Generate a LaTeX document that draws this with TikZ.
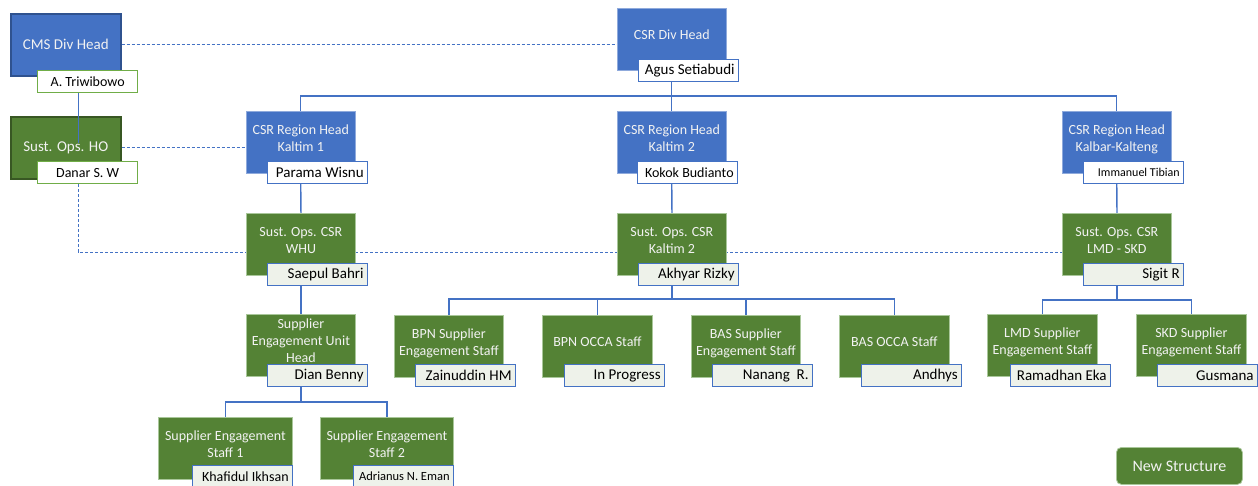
\documentclass[tikz,border=0pt]{standalone}
\usepackage{fontspec}
\setmainfont{Carlito}
\definecolor{cblue}{HTML}{4472C4}
\definecolor{cdblue}{HTML}{2F528F}
\definecolor{cgreen}{HTML}{548235}
\definecolor{cdgreen}{HTML}{385723}
\definecolor{clgreen}{HTML}{70AD47}
\definecolor{cgborder}{HTML}{A9C79A}
\definecolor{cbborder}{HTML}{8FAADC}
\definecolor{ctext}{HTML}{F2F2F2}
\definecolor{ctint}{HTML}{EEF2EA}
\pgfdeclarelayer{bg}
\pgfsetlayers{bg,main}
\newcommand\ttl[1]{\raisebox{0pt}[\height][\dimexpr\depth+6pt\relax]{\begin{tabular}{@{}c@{}}#1\end{tabular}}}
\newcommand\nmr[1]{\makebox[92pt][r]{#1}}
\tikzset{
  box/.style={rectangle, anchor=north west, minimum width=109pt, minimum height=62pt, inner sep=0pt, font=\fontsize{14}{17}\selectfont, text=ctext},
  bbox/.style={box, fill=cblue, draw=cbborder, line width=0.6pt},
  gbox/.style={box, fill=cgreen, draw=cgborder, line width=0.8pt},
  nm/.style={rectangle, anchor=north west, draw=cblue, line width=1.3pt, fill=white, minimum width=100pt, minimum height=22pt, inner xsep=4pt, inner ysep=0pt, font=\fontsize{15}{18}\selectfont, text=black},
  gnm/.style={nm, fill=ctint},
  conn/.style={draw=cblue, line width=1.3pt},
  dconn/.style={draw=cblue, line width=0.7pt, dash pattern=on 3pt off 2pt},
  legend/.style={rectangle, anchor=north west, rounded corners=5pt, fill=cgreen, draw=cgborder, line width=0.8pt, minimum width=126pt, minimum height=37pt, font=\fontsize{16}{19}\selectfont, text=ctext}
}
\begin{document}
\begin{tikzpicture}[x=1pt,y=-1pt]
\useasboundingbox (0,0) rectangle (1258,485);
\clip (0,0) rectangle (1258,485);
% left column
\node[bbox, draw=cdblue, line width=1.5pt, minimum width=110pt, font=\fontsize{15}{18}\selectfont] (cms) at (10,13) {CMS Div Head};
\node[nm, draw=clgreen, font=\fontsize{14}{17}\selectfont] (triw) at (37,70) {A. Triwibowo};
\node[gbox, draw=cdgreen, line width=1.5pt, minimum width=110pt, font=\fontsize{15}{18}\selectfont] (susho) at (10,116) {Sust. Ops. HO};
\coordinate (vs) at (78,143);
\draw[conn, line width=0.8pt] (triw.south -| vs) -- (vs);
\node[nm, draw=clgreen, font=\fontsize{14}{17}\selectfont] (danar) at (37,161) {Danar S. W};
% top
\node[bbox] (head) at (617,8) {\ttl{CSR Div Head}};
\node[nm] (agus) at (638,59) {\nmr{Agus Setiabudi}};
% region heads
\node[bbox] (rh1) at (246,111) {\ttl{CSR Region Head\\Kaltim 1}};
\node[nm] (parama) at (267,161) {\nmr{Parama Wisnu}};
\node[bbox] (rh2) at (617,111) {\ttl{CSR Region Head\\Kaltim 2}};
\node[nm, font=\fontsize{14}{17}\selectfont] (kokok) at (637,161) {\nmr{Kokok Budianto}};
\node[bbox] (rh3) at (1062,111) {\ttl{CSR Region Head\\Kalbar-Kalteng}};
\node[nm, font=\fontsize{12}{14}\selectfont] (imm) at (1083,161) {\nmr{Immanuel Tibian}};
% sust ops
\node[gbox] (so1) at (246,213) {\ttl{Sust. Ops. CSR\\WHU}};
\node[gnm] (saepul) at (267,263) {\nmr{Saepul Bahri}};
\node[gbox] (so2) at (617,213) {\ttl{Sust. Ops. CSR\\Kaltim 2}};
\node[gnm] (akhyar) at (638,263) {\nmr{Akhyar Rizky}};
\node[gbox] (so3) at (1062,213) {\ttl{Sust. Ops. CSR\\LMD - SKD}};
\node[gnm] (sigit) at (1083,263) {\nmr{Sigit R}};
% row 3
\node[gbox] (ueh) at (246,314) {\ttl{Supplier\\Engagement Unit\\Head}};
\node[gnm] (dian) at (267,364) {\nmr{Dian Benny}};
\node[gbox] (bpn1) at (394,315) {\ttl{BPN Supplier\\Engagement Staff}};
\node[gnm] (zain) at (415,364) {\nmr{Zainuddin HM}};
\node[gbox, minimum width=110pt] (bpn2) at (542,315) {\ttl{BPN OCCA Staff}};
\node[gnm] (inprog) at (564,364) {\nmr{In Progress}};
\node[gbox] (bas1) at (691,315) {\ttl{BAS Supplier\\Engagement Staff}};
\node[gnm] (nanang) at (712,364) {\nmr{Nanang~ R.}};
\node[gbox, minimum width=110pt] (bas2) at (839,315) {\ttl{BAS OCCA Staff}};
\node[gnm] (andhys) at (861,364) {\nmr{Andhys}};
\node[gbox, minimum width=110pt] (lmd) at (987,314) {\ttl{LMD Supplier\\Engagement Staff}};
\node[gnm] (ramadhan) at (1010,364) {\nmr{Ramadhan Eka}};
\node[gbox, minimum width=110pt] (skd) at (1136,314) {\ttl{SKD Supplier\\Engagement Staff}};
\node[gnm] (gusmana) at (1157,364) {\nmr{Gusmana}};
% bottom
\node[gbox, minimum width=134pt] (ss1) at (158,417) {\ttl{Supplier Engagement\\Staff 1}};
\node[gnm, font=\fontsize{14}{17}\selectfont] (khaf) at (192,465) {\nmr{Khafidul Ikhsan}};
\node[gbox, minimum width=133pt] (ss2) at (320,417) {\ttl{Supplier Engagement\\Staff 2}};
\node[gnm, font=\fontsize{12.5}{15}\selectfont] (adri) at (353,465) {\nmr{Adrianus N. Eman}};
% legend
\node[legend] (leg) at (1116,447) {New Structure};
% connectors
\coordinate (b1) at (0,96);
\coordinate (b3) at (0,299);
\coordinate (b3r) at (0,300);
\coordinate (b4) at (0,402);
\coordinate (vx) at (78,252);
\begin{pgfonlayer}{bg}
\draw[conn] (head.south) -- (head.south |- b1);
\draw[conn] (rh1.north) |- (rh3.north |- b1) -- (rh3.north);
\draw[conn] (rh2.north) -- (rh2.north |- b1);
\draw[conn] (rh1.south) -- (so1.north);
\draw[conn] (rh2.south) -- (so2.north);
\draw[conn] (rh3.south) -- (so3.north);
\draw[conn] (so1.south) -- (ueh.north);
\draw[conn] (ueh.south) -- (ueh.south |- b4);
\draw[conn] (ss1.north) |- (ss2.north |- b4) -- (ss2.north);
\draw[conn] (so2.south) -- (so2.south |- b3);
\draw[conn] (bpn1.north) |- (bas2.north |- b3) -- (bas2.north);
\draw[conn] (bpn2.north) -- (bpn2.north |- b3);
\draw[conn] (bas1.north) -- (bas1.north |- b3);
\draw[conn] (so3.south) -- (so3.south |- b3r);
\draw[conn] (lmd.north) |- (skd.north |- b3r) -- (skd.north);
\draw[dconn] (cms.east) -- (cms.east -| head.west);
\draw[dconn] (susho.east) -- (susho.east -| rh1.west);
\draw[dconn] (danar.south -| vx) -- (vx) -- (vx -| so3.west);
\end{pgfonlayer}
\end{tikzpicture}
\end{document}
